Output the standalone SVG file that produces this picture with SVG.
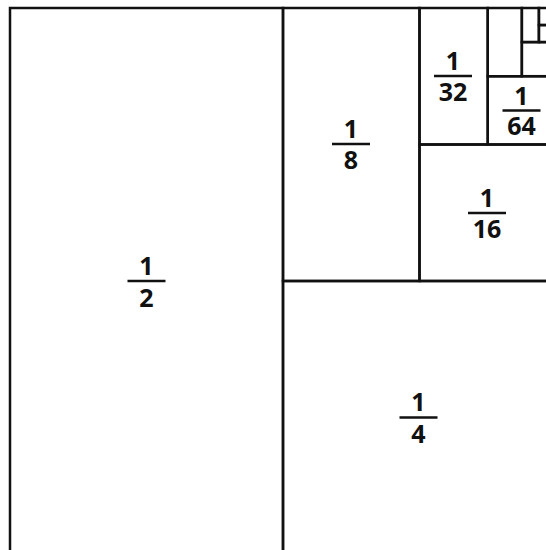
<svg xmlns="http://www.w3.org/2000/svg" width="546" height="550" viewBox="0 0 546 550">
  <style>
    .box { fill: none; stroke: #111; stroke-width: 2.5; }
    .bar { stroke: #111; stroke-width: 2.5; }
    .t { font-family: "Open Sans", "Noto Sans", "Liberation Sans", sans-serif; font-weight: bold; font-size: 25px; fill: #111; text-anchor: middle; }
  </style>
  <rect x="0" y="0" width="546" height="550" fill="#ffffff"/>
  <g id="half">
    <rect class="box" x="10" y="8" width="273" height="546"/>
    <text class="t" x="146.5" y="274.5">1</text>
    <line class="bar" x1="127.5" y1="281" x2="165.5" y2="281"/>
    <text class="t" x="146.5" y="306.5">2</text>
  </g>
  <g id="quarter">
    <rect class="box" x="283" y="281" width="273" height="273"/>
    <text class="t" x="418.5" y="411">1</text>
    <line class="bar" x1="399.5" y1="417.5" x2="437.5" y2="417.5"/>
    <text class="t" x="418.5" y="442.5">4</text>
  </g>
  <g id="eighth">
    <rect class="box" x="283" y="8" width="136.5" height="273"/>
    <text class="t" x="351" y="138">1</text>
    <line class="bar" x1="332" y1="144" x2="370" y2="144"/>
    <text class="t" x="351" y="168.5">8</text>
  </g>
  <g id="sixteenth">
    <rect class="box" x="419.5" y="144.5" width="136.5" height="136.5"/>
    <text class="t" x="487" y="207">1</text>
    <line class="bar" x1="468" y1="213" x2="506" y2="213"/>
    <text class="t" x="487" y="237.5">16</text>
  </g>
  <g id="thirtysecond">
    <rect class="box" x="419.5" y="8" width="68.25" height="136.5"/>
    <text class="t" x="453" y="70">1</text>
    <line class="bar" x1="434" y1="76" x2="472" y2="76"/>
    <text class="t" x="453" y="100.5">32</text>
  </g>
  <g id="sixtyfourth">
    <rect class="box" x="487.75" y="76.25" width="68.25" height="68.25"/>
    <text class="t" x="521.5" y="104.5">1</text>
    <line class="bar" x1="502.5" y1="110.5" x2="540.5" y2="110.5"/>
    <text class="t" x="521.5" y="135">64</text>
  </g>
  <g id="r128">
    <rect class="box" x="487.75" y="8" width="34.1" height="68.25"/>
  </g>
  <g id="r256">
    <rect class="box" x="521.85" y="42.1" width="34.1" height="34.1"/>
  </g>
  <g id="r512">
    <rect class="box" x="521.85" y="8" width="17.06" height="34.1"/>
  </g>
  <g id="r1024">
    <rect class="box" x="538.9" y="25.05" width="17.06" height="17.06"/>
  </g>
  <g id="r2048">
    <rect class="box" x="538.9" y="8" width="8.53" height="17.06"/>
  </g>
  <g id="r4096">
    <rect class="box" x="547.43" y="16.5" width="8.53" height="8.53"/>
  </g>
  <g id="connectors"></g>
</svg>
